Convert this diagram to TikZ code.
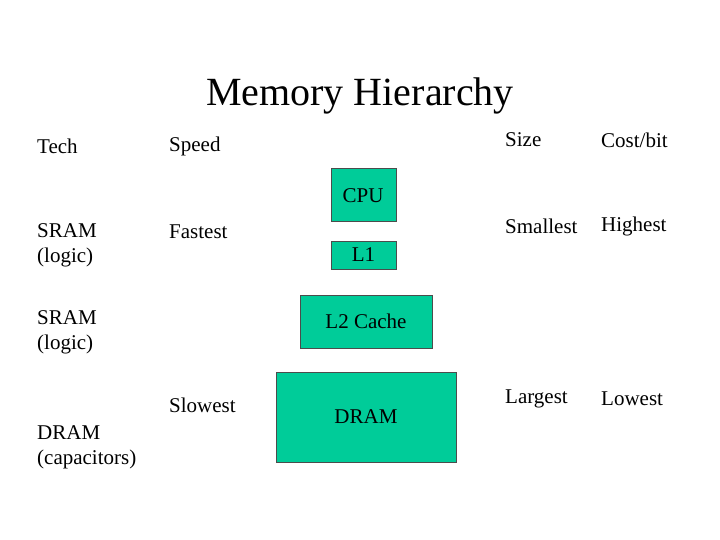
\documentclass[tikz,border=0pt]{standalone}
\usepackage{fontspec}
\setmainfont{Liberation Serif}
\begin{document}
\begin{tikzpicture}[x=1pt,y=-1pt,
  box/.style={draw=black!70,fill={rgb,255:red,0;green,204;blue,153},inner sep=0},
  lbl/.style={anchor=west,font=\fontsize{21}{25}\selectfont,align=left,inner sep=0}]
\useasboundingbox (0,0) rectangle (720,540);
\node[font=\fontsize{40}{44}\selectfont] (title) at (360,96) {Memory Hierarchy};
\node[box,minimum width=65,minimum height=53] (cpu) at (363.5,194.5) {};
\node[font=\fontsize{21}{25}\selectfont] (cput) at (363,196) {CPU};
\node[box,minimum width=65,minimum height=28,font=\fontsize{21}{25}\selectfont] (l1) at (363.5,255) {L1};
\node[box,minimum width=132,minimum height=53,font=\fontsize{21}{25}\selectfont] (l2) at (366,321.5) {L2 Cache};
\node[box,minimum width=180,minimum height=90,font=\fontsize{21}{25}\selectfont] (dram) at (366,417) {DRAM};
\node[lbl] (tech) at (37,146) {Tech};
\node[lbl] (speed) at (169,146) {Speed};
\node[lbl] (size) at (505,140) {Size};
\node[lbl] (cost) at (601,140) {Cost/bit};
\node[lbl] (s1) at (37,245) {SRAM\\(logic)};
\node[lbl] (fast) at (169,232) {Fastest};
\node[lbl] (small) at (505,226) {Smallest};
\node[lbl] (high) at (601,226) {Highest};
\node[lbl] (s2) at (37,332) {SRAM\\(logic)};
\node[lbl] (slow) at (169,405) {Slowest};
\node[lbl] (d) at (37,447) {DRAM\\(capacitors)};
\node[lbl] (large) at (505,399) {Largest};
\node[lbl] (low) at (601,399) {Lowest};
\end{tikzpicture}
\end{document}
